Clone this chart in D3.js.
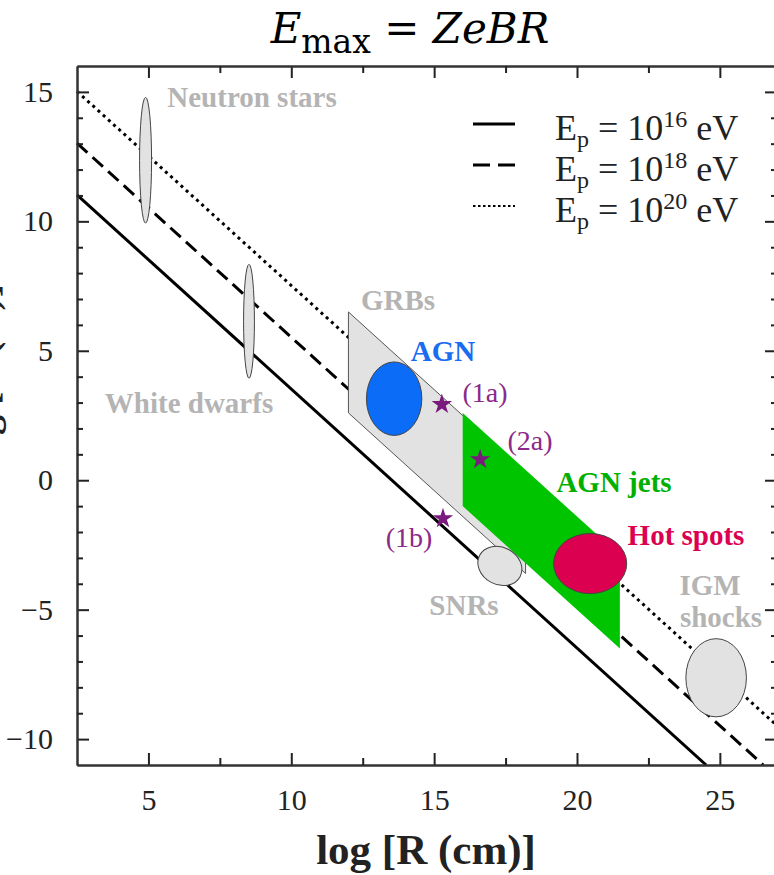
<!DOCTYPE html>
<html>
<head>
<meta charset="utf-8">
<script src="https://cdn.jsdelivr.net/npm/d3@7"></script>
<style>
  body { margin: 0; background: #fff; }
  svg { display: block; }
</style>
</head>
<body>
<script>
// axis ticks
const xMajor = [5, 10, 15, 20, 25];
const xMinor = [7.5, 12.5, 17.5, 22.5];
const yMajor = [-10, -5, 0, 5, 10, 15];
const yMinor = [-9, -8, -7, -6, -4, -3, -2, -1, 1, 2, 3, 4, 6, 7, 8, 9, 11, 12, 13, 14];

// Hillas lines: [logR, logB] end points, one per proton energy
const energies = ["16", "18", "20"];
const lineDash = ["none", "14,7", "3,4"];
const linePoints = [
  [[2.5, 11.02], [24.52, -11]],
  [[2.5, 13.02], [26.52, -11]],
  [[2.5, 15.02], [27, -9.48]]
];

// source regions as ellipses: centre logR, centre logB, half widths
const blobNames = ["Neutron stars", "White dwarfs", "AGN", "SNRs", "Hot spots", "IGM shocks"];
const blobX = [4.9, 8.52, 13.6, 17.3, 20.46, 24.87];
const blobY = [12.36, 6.14, 3.15, -3.31, -3.22, -7.63];
const blobRx = [0.21, 0.19, 0.97, 0.8, 1.28, 1.06];
const blobRy = [2.43, 2.2, 1.42, 0.72, 1.16, 1.51];
const blobTilt = [0, 0, 0, 28, 0, 0];
const blobFill = ["#e2e2e2", "#e2e2e2", "#0a6cf7", "#e2e2e2", "#dc0050", "#e2e2e2"];

// parallelogram regions: left logR, right logR, top & bottom logB at left edge (slope -1)
const bandNames = ["GRBs", "AGN jets"];
const bandX0 = [12, 16];
const bandX1 = [18.2, 21.5];
const bandTop = [6.5, 2.6];
const bandBottom = [2.6, -1];
const bandFill = ["#e2e2e2", "#00c400"];

// example accelerators
const starNames = ["(1a)", "(2a)", "(1b)"];
const starX = [15.27, 16.61, 15.31];
const starY = [2.93, 0.8, -1.48];

const W = 774, H = 875;
const serif = "'Liberation Serif', 'Times New Roman', serif";

const x = d3.scaleLinear().domain([2.5, 27]).range([77, 777]);
const y = d3.scaleLinear().domain([-11, 16]).range([765, 66]);

const svg = d3.select("body").append("svg")
  .attr("width", W)
  .attr("height", H)
  .style("font-family", serif);

// title
const title = svg.append("text")
  .attr("x", 410)
  .attr("y", 43)
  .attr("text-anchor", "middle")
  .style("font-family", "'DejaVu Serif', serif")
  .style("font-size", "42px")
  .style("fill", "#000");
title.append("tspan").style("font-style", "italic").text("E");
title.append("tspan").attr("dy", 10).style("font-size", "33px").text("max");
title.append("tspan").attr("dy", -10).text(" = ");
title.append("tspan").style("font-style", "italic").text("ZeBR");

// lines
const line = d3.line().x(d => x(d[0])).y(d => y(d[1]));
svg.append("g").selectAll("path")
  .data(linePoints)
  .join("path")
  .attr("d", line)
  .attr("fill", "none")
  .attr("stroke", "#000")
  .attr("stroke-width", 3)
  .attr("stroke-dasharray", (d, i) => lineDash[i]);

// parallelograms
const bands = svg.append("g");
bandNames.forEach((name, i) => {
  const w = bandX1[i] - bandX0[i];
  const pts = [
    [bandX0[i], bandTop[i]],
    [bandX1[i], bandTop[i] - w],
    [bandX1[i], bandBottom[i] - w],
    [bandX0[i], bandBottom[i]]
  ];
  bands.append("path")
    .attr("d", "M" + pts.map(p => [x(p[0]), y(p[1])].join(",")).join("L") + "Z")
    .attr("fill", bandFill[i])
    .attr("stroke", i === 0 ? "#555" : "none")
    .attr("stroke-width", 1);
});

// ellipses
svg.append("g").selectAll("ellipse")
  .data(blobNames)
  .join("ellipse")
  .attr("cx", (d, i) => x(blobX[i]))
  .attr("cy", (d, i) => y(blobY[i]))
  .attr("rx", (d, i) => x(blobX[i] + blobRx[i]) - x(blobX[i]))
  .attr("ry", (d, i) => y(blobY[i]) - y(blobY[i] + blobRy[i]))
  .attr("transform", (d, i) => `rotate(${blobTilt[i]},${x(blobX[i])},${y(blobY[i])})`)
  .attr("fill", (d, i) => blobFill[i])
  .attr("stroke", "#444")
  .attr("stroke-width", 1);

// stars
svg.append("g").selectAll("path")
  .data(starNames)
  .join("path")
  .attr("d", d3.symbol(d3.symbolStar, 130))
  .attr("transform", (d, i) => `translate(${x(starX[i])},${y(starY[i])})`)
  .attr("fill", "#7a1a7c");

// labels
const labels = [
  { t: "Neutron stars", x: 252, y: 107, c: "#b4b4b4", b: true },
  { t: "White dwarfs", x: 189, y: 413, c: "#b4b4b4", b: true },
  { t: "GRBs", x: 398, y: 310, c: "#b4b4b4", b: true },
  { t: "AGN", x: 443, y: 361, c: "#1a6cf0", b: true },
  { t: "AGN jets", x: 614, y: 492, c: "#00b000", b: true },
  { t: "Hot spots", x: 686, y: 545, c: "#dc0050", b: true },
  { t: "SNRs", x: 464, y: 615, c: "#b4b4b4", b: true },
  { t: "IGM", x: 710, y: 595, c: "#b4b4b4", b: true },
  { t: "shocks", x: 721, y: 627, c: "#b4b4b4", b: true },
  { t: "(1a)", x: 485, y: 402, c: "#8a2a8a", b: false },
  { t: "(2a)", x: 530, y: 450, c: "#8a2a8a", b: false },
  { t: "(1b)", x: 409, y: 547, c: "#8a2a8a", b: false }
];
svg.append("g").selectAll("text")
  .data(labels)
  .join("text")
  .attr("x", d => d.x)
  .attr("y", d => d.y)
  .attr("text-anchor", "middle")
  .style("font-size", d => d.b ? "29px" : "28px")
  .style("font-weight", d => d.b ? "bold" : "normal")
  .style("fill", d => d.c)
  .text(d => d.t);

// axes, ticks pointing inward
function styleAxis(g) {
  g.selectAll("path.domain").attr("stroke", "#333").attr("stroke-width", 2);
  g.selectAll(".tick line").attr("stroke", "#222").attr("stroke-width", 2);
  g.selectAll(".tick text")
    .style("font-family", serif)
    .style("font-size", "30px")
    .style("fill", "#222");
}
const fmt = d => d < 0 ? "\u2212" + Math.abs(d) : d;

svg.append("g").attr("transform", "translate(0,765)")
  .call(d3.axisBottom(x).tickValues(xMajor).tickSizeInner(-12).tickSizeOuter(0).tickPadding(24).tickFormat(fmt))
  .call(styleAxis);
svg.append("g").attr("transform", "translate(0,765)")
  .call(d3.axisBottom(x).tickValues(xMinor).tickSizeInner(-7).tickSizeOuter(0).tickFormat(""))
  .call(styleAxis);
svg.append("g").attr("transform", "translate(0,66)")
  .call(d3.axisTop(x).tickValues(xMajor).tickSizeInner(-12).tickSizeOuter(0).tickFormat(""))
  .call(styleAxis);
svg.append("g").attr("transform", "translate(0,66)")
  .call(d3.axisTop(x).tickValues(xMinor).tickSizeInner(-7).tickSizeOuter(0).tickFormat(""))
  .call(styleAxis);
svg.append("g").attr("transform", "translate(77,0)")
  .call(d3.axisLeft(y).tickValues(yMajor).tickSizeInner(-12).tickSizeOuter(0).tickPadding(24).tickFormat(fmt))
  .call(styleAxis);
svg.append("g").attr("transform", "translate(77,0)")
  .call(d3.axisLeft(y).tickValues(yMinor).tickSizeInner(-6).tickSizeOuter(0).tickFormat(""))
  .call(styleAxis);
svg.append("g").attr("transform", "translate(777,0)")
  .call(d3.axisRight(y).tickValues(yMajor).tickSizeInner(-12).tickSizeOuter(0).tickFormat(""))
  .call(styleAxis);
svg.append("g").attr("transform", "translate(777,0)")
  .call(d3.axisRight(y).tickValues(yMinor).tickSizeInner(-6).tickSizeOuter(0).tickFormat(""))
  .call(styleAxis);

// axis titles
svg.append("text")
  .attr("x", 426)
  .attr("y", 864)
  .attr("text-anchor", "middle")
  .style("font-size", "43px")
  .style("font-weight", "bold")
  .style("fill", "#222")
  .text("log [R (cm)]");

// y title sits mostly beyond the left edge, as in the cropped original
svg.append("text")
  .attr("transform", "translate(-3,375) rotate(-90)")
  .attr("text-anchor", "middle")
  .style("font-size", "40px")
  .style("font-weight", "bold")
  .style("fill", "#222")
  .text("log [B (G)]");

// legend
const legend = svg.append("g");
energies.forEach((e, i) => {
  const ly = 124 + i * 41;
  legend.append("line")
    .attr("x1", 473).attr("x2", 515)
    .attr("y1", ly).attr("y2", ly)
    .attr("stroke", "#000")
    .attr("stroke-width", i === 2 ? 2 : 3)
    .attr("stroke-dasharray", i === 0 ? null : i === 1 ? "17,8" : "2.5,2.5");
  const t = legend.append("text")
    .attr("x", 555)
    .attr("y", ly + 16)
    .style("font-size", "36px")
    .style("fill", "#222");
  t.append("tspan").text("E");
  t.append("tspan").attr("dy", 7).style("font-size", "24px").text("p");
  t.append("tspan").attr("dy", -7).text(" = 10");
  t.append("tspan").attr("dy", -13).style("font-size", "24px").text(e);
  t.append("tspan").attr("dy", 13).text(" eV");
});
</script>
</body>
</html>
